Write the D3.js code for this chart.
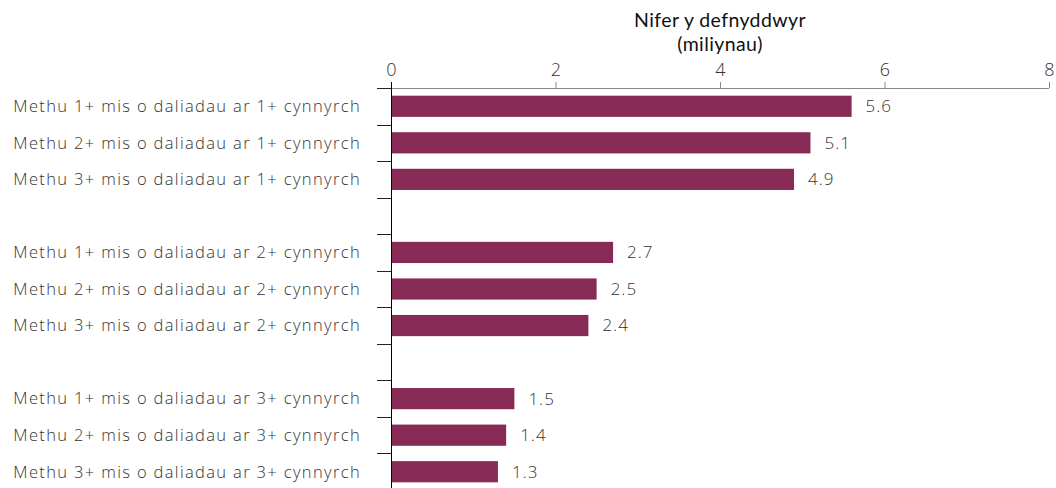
<!DOCTYPE html>
<html>
<head>
<meta charset="utf-8">
<script src="https://cdn.jsdelivr.net/npm/d3@7"></script>
<style>
  html, body { margin: 0; padding: 0; background: #fff; }
  text { font-family: "Open Sans", Lato, sans-serif; font-weight: 300; }
</style>
</head>
<body>
<svg id="chart" width="1056" height="488"></svg>
<script>
const categories = [
  "Methu 1+ mis o daliadau ar 1+ cynnyrch",
  "Methu 2+ mis o daliadau ar 1+ cynnyrch",
  "Methu 3+ mis o daliadau ar 1+ cynnyrch",
  "gap1",
  "Methu 1+ mis o daliadau ar 2+ cynnyrch",
  "Methu 2+ mis o daliadau ar 2+ cynnyrch",
  "Methu 3+ mis o daliadau ar 2+ cynnyrch",
  "gap2",
  "Methu 1+ mis o daliadau ar 3+ cynnyrch",
  "Methu 2+ mis o daliadau ar 3+ cynnyrch",
  "Methu 3+ mis o daliadau ar 3+ cynnyrch"
];
const values = [5.6, 5.1, 4.9, null, 2.7, 2.5, 2.4, null, 1.5, 1.4, 1.3];
const xTicks = [0, 2, 4, 6, 8];
const titleLines = ["Nifer y defnyddwyr", "(miliynau)"];

const svg = d3.select("#chart");
const mLeft = 391, mRight = 1049, mTop = 88, mBottom = 490;

const x = d3.scaleLinear().domain([0, 8]).range([mLeft, mRight]);
const y = d3.scaleBand().domain(categories).range([mTop, mBottom])
  .paddingInner(0.42).paddingOuter(0.21);

// bars
const data = categories.map((c, i) => ({c, v: values[i]})).filter(d => d.v != null);
svg.append("g").selectAll("rect").data(data).join("rect")
  .attr("x", x(0))
  .attr("y", d => y(d.c))
  .attr("width", d => x(d.v) - x(0))
  .attr("height", y.bandwidth())
  .attr("fill", "#872a55");

// value labels
svg.append("g").selectAll("text").data(data).join("text")
  .attr("x", d => x(d.v) + 14)
  .attr("y", d => y(d.c) + y.bandwidth() / 2)
  .attr("dy", "0.35em")
  .attr("font-size", 17)
  .attr("letter-spacing", 1)
  .attr("fill", "#333")
  .text(d => d.v.toFixed(1));

// x axis (top)
const xAxis = svg.append("g").attr("transform", `translate(0,${mTop})`)
  .call(d3.axisTop(x).tickValues(xTicks).tickSize(6).tickSizeOuter(0).tickPadding(6));
xAxis.select(".domain").attr("stroke", "#888").attr("d", `M${mLeft - 14},0.5H${mRight}`);
xAxis.selectAll(".tick line").attr("stroke", "#888");
xAxis.selectAll(".tick text").attr("font-size", 18).attr("fill", "#333")
  .attr("font-family", null);

// y axis boundaries (ticks at every band edge)
const step = y.step();
const edges = d3.range(categories.length + 1).map(i => mTop + i * step);
svg.append("g").selectAll("line").data(edges).join("line")
  .attr("x1", mLeft - 14).attr("x2", mLeft)
  .attr("y1", d => Math.round(d) + 0.5).attr("y2", d => Math.round(d) + 0.5)
  .attr("stroke", "#222");
svg.append("line")
  .attr("x1", mLeft + 0.5).attr("x2", mLeft + 0.5)
  .attr("y1", mTop - 6).attr("y2", mBottom)
  .attr("stroke", "#000");

// category labels
svg.append("g").selectAll("text").data(categories.filter(c => !c.startsWith("gap"))).join("text")
  .attr("x", 361)
  .attr("y", d => y(d) + y.bandwidth() / 2)
  .attr("dy", "0.35em")
  .attr("text-anchor", "end")
  .attr("font-size", 16.5)
  .attr("letter-spacing", 1.35)
  .attr("fill", "#333")
  .text(d => d);

// title
svg.append("g").selectAll("text").data(titleLines).join("text")
  .attr("x", x(4))
  .attr("y", (d, i) => 27 + i * 24)
  .attr("text-anchor", "middle")
  .style("font-family", "Lato, sans-serif")
  .style("font-weight", 400)
  .attr("font-size", 19.5)
  .attr("letter-spacing", 0.4)
  .attr("fill", "#111")
  .text(d => d);
</script>
</body>
</html>
